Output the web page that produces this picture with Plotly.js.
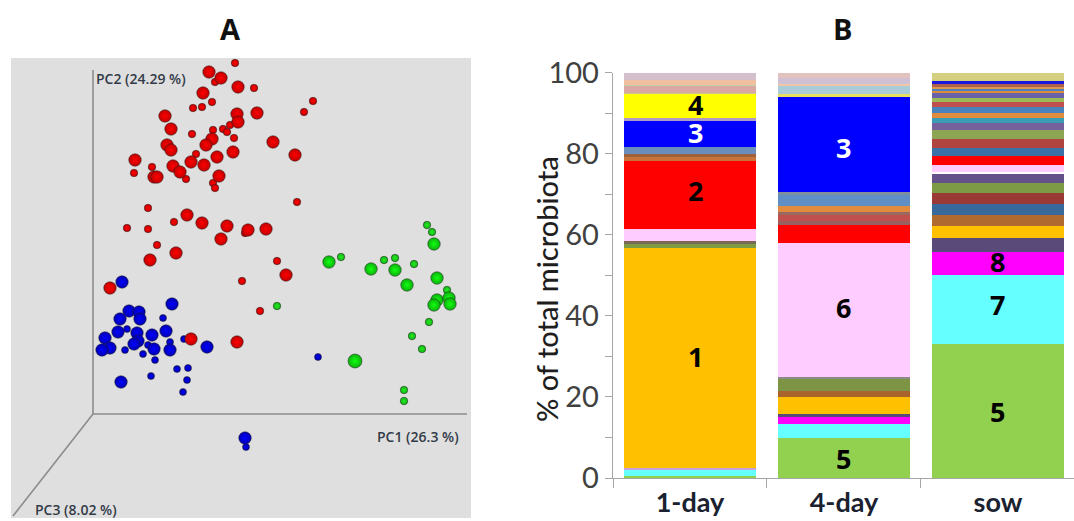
<!DOCTYPE html>
<html><head><meta charset="utf-8">
<script src="https://cdn.plot.ly/plotly-3.0.0.min.js"></script>
<style>html,body{margin:0;padding:0;background:#fff;overflow:hidden}#g{width:1074px;height:521px}</style>
</head><body><div id="g"></div>
<script>
// Panel A: projected PCoA positions
const redBigX=[209,221,238,203,165,171,237,257,238,212,206,167,171,273,295,233,217,135,191,204,173,180,219,154,157,187,202,227,248,266,221,176,150,286,110,191,237];
const redBigY=[72,78,87,93,116,129,114,113,122,139,145,145,150,142,155,152,157,160,162,165,166,172,176,177,177,215,223,226,230,229,239,253,260,275,288,339,342];
const redSmallX=[235,215,254,212,202,193,313,304,230,213,223,227,234,192,196,152,134,186,213,215,148,297,174,127,148,245,157,277,242,260];
const redSmallY=[63,82,88,102,107,108,101,112,125,130,129,132,138,134,154,167,173,179,183,188,208,202,222,228,229,233,245,261,281,311];
const greenBigX=[329,371,395,407,434,437,437,434,449,450];
const greenBigY=[262,269,270,285,244,278,300,305,298,304];
const greenHugeX=[355];
const greenHugeY=[361];
const greenSmallX=[341,384,395,414,427,432,447,429,412,422,404,404,277];
const greenSmallY=[257,260,258,264,225,232,290,322,336,349,390,401,306];
const blueBigX=[122,172,129,139,120,140,118,137,166,152,105,138,134,110,102,154,170,207,121,245];
const blueBigY=[282,304,311,312,319,319,332,333,331,335,338,341,344,348,350,349,350,347,382,438];
const blueSmallX=[163,127,170,184,148,125,143,155,177,188,187,151,183,246,318];
const blueSmallY=[318,329,342,339,345,350,354,360,369,368,380,376,392,447,357];

// Panel B: stacked segment heights, bottom to top
const groups=["1-day","4-day","sow"];
const day1Values=[0.6,1.4,0.4,54.3,0.9,0.9,3,16.7,1,0.7,1.7,6.4,0.7,6,0.2,1.8,0.2,1.3,1.7];
const day1Colors=["#92D050","#66FFFF","#C9A0DC","#FFC000","#7F9A45","#7A6A55","#FFCCFF","#FF0000","#C8733A","#A0603A","#6A8FBF","#0000FF","#B09AC8","#FFFF00","#C8C890","#D9A8A2","#C5CFA5","#F0BFA0","#D4C0CC"];
const day4Values=[9.8,3.5,1.7,0.9,4,1.5,3.1,0.3,33.2,4.5,0.9,1.4,0.9,1.4,2.7,0.8,23.3,0.8,2,0.5,1.4,1.2];
const day4Colors=["#92D050","#66FFFF","#FF00FF","#5A4A7A","#FFC000","#A8642C","#7D9445","#8A8A8A","#FFCCFF","#FF0000","#9A5F5F","#C0504D","#9A6A60","#E08B3E","#5F8FC5","#7F8FA0","#0000FF","#E8E060","#A9CCD8","#F0C8A8","#D0C0D4","#E2C2BE"];
const sowValues=[33,17,5.7,3.5,3,2.7,2.7,2.6,2.5,2.3,0.4,1.8,2.2,2.1,2.2,2.1,1.7,1.4,1.2,1.5,1.2,0.9,1.2,0.5,0.5,0.6,0.7,0.8,1.8];
const sowColors=["#92D050","#66FFFF","#FF00FF","#5A4A7A","#FFC000","#B0692E","#376A9A","#9A3A36","#7D9A45","#66528A","#FFFFFF","#FFCCFF","#FF0000","#3A72A8","#B0453F","#8CA653","#76619C","#3A9DB5","#E08C3E","#4A82BE","#C0504D","#9BBB59","#6A62A8","#E08C3E","#4A82BE","#E09850","#B0604F","#1818E0","#D4D080"];
const stacks=[[day1Values,day1Colors],[day4Values,day4Colors],[sowValues,sowColors]];

// In-bar numbers
const labelGroup=["1-day","1-day","1-day","1-day","4-day","4-day","4-day","sow","sow","sow"];
const labelValue=[30,70.8,85.3,92.2,81.6,42,4.7,16.5,42.7,53.5];
const labelText=["1","2","3","4","3","6","5","5","7","8"];
const labelColor=["#000","#000","#fff","#000","#fff","#000","#000","#000","#000","#000"];
const labelShift=[6,6,6,6,0,0,0,0,0,0];

const W=1074,H=521;
function sphere(x,y,edge,core,size){
  return {type:'scatter',mode:'markers',x:x,y:y,xaxis:'x',yaxis:'y',showlegend:false,hoverinfo:'skip',
    marker:{size:size,color:edge,line:{width:0.9,color:'rgba(30,30,30,0.55)'},gradient:{type:'radial',color:core}}};
}
const data=[
  sphere(redSmallX,redSmallY,'#c40000','#ff0000',7.5),
  sphere(greenSmallX,greenSmallY,'#12b012','#22f022',7.5),
  sphere(blueSmallX,blueSmallY,'#0000b0','#0000f5',7),
  sphere(redBigX,redBigY,'#c00000','#ff0000',12.5),
  sphere(greenBigX,greenBigY,'#0cb00c','#11ff11',12.5),
  sphere(greenHugeX,greenHugeY,'#0cb00c','#11ff11',14),
  sphere(blueBigX,blueBigY,'#0000b0','#0000ff',12.5)
];
stacks.forEach(function(s,i){
  s[0].forEach(function(v,j){
    data.push({type:'bar',x:[groups[i]],y:[v],xaxis:'x2',yaxis:'y2',showlegend:false,hoverinfo:'skip',
      marker:{color:s[1][j],line:{width:0}}});
  });
});
const axisGrey='#8c8c8c';
function seg(x0,y0,x1,y1){return {type:'line',xref:'x',yref:'y',x0:x0,y0:y0,x1:x1,y1:y1,line:{color:axisGrey,width:1.6},layer:'below'};}
const pcFont={family:'Open Sans',size:14,color:'#333b48',weight:600};
const annotations=[
  {xref:'paper',yref:'paper',x:230/W,y:1-28/H,xanchor:'center',yanchor:'middle',text:'<b>A</b>',showarrow:false,font:{family:'Open Sans, Arial',size:29,color:'#111'}},
  {xref:'paper',yref:'paper',x:842/W,y:1-28/H,xanchor:'center',yanchor:'middle',text:'<b>B</b>',showarrow:false,font:{family:'Open Sans, Arial',size:29,color:'#111'}},
  {xref:'paper',yref:'paper',x:546/W,y:1-289/H,xanchor:'center',yanchor:'middle',textangle:-90,text:'% of total microbiota',showarrow:false,font:{family:'Lato, Arial',size:29,color:'#1e1e1e',weight:500}},
  {xref:'x',yref:'y',x:94,y:78,xanchor:'left',text:'PC2 (24.29 %)',showarrow:false,font:pcFont},
  {xref:'x',yref:'y',x:375,y:436,xanchor:'left',text:'PC1 (26.3 %)',showarrow:false,font:pcFont},
  {xref:'x',yref:'y',x:33,y:509,xanchor:'left',text:'PC3 (8.02 %)',showarrow:false,font:pcFont}
];
labelText.forEach(function(t,i){
  annotations.push({xref:'x2',yref:'y2',x:labelGroup[i],y:labelValue[i],xshift:labelShift[i],text:'<b>'+t+'</b>',showarrow:false,
    font:{family:'Open Sans, Lato',size:27,color:labelColor[i]}});
});
const layout={
  width:W,height:H,margin:{l:0,r:0,t:0,b:0},paper_bgcolor:'#fff',plot_bgcolor:'rgba(0,0,0,0)',
  barmode:'stack',bargap:0.14,showlegend:false,
  xaxis:{domain:[11/W,471/W],range:[11,471],visible:false,fixedrange:true},
  yaxis:{domain:[1-518/H,1-58/H],range:[518,58],visible:false,fixedrange:true},
  xaxis2:{domain:[613/W,1],range:[-0.5,2.494],type:'category',categoryorder:'array',categoryarray:groups,
    tickson:'boundaries',ticks:'outside',ticklen:9,tickcolor:'#a6a6a6',showline:true,linecolor:'#a6a6a6',linewidth:1.3,
    showgrid:false,zeroline:false,tickfont:{family:'Lato, Arial',size:27,color:'#1a2230',weight:'bold'},ticklabelstandoff:0,fixedrange:true,anchor:'y2'},
  yaxis2:{domain:[1-478/H,1-72.5/H],range:[0,100],dtick:20,tick0:0,ticks:'outside',ticklen:7,tickcolor:'#a6a6a6',
    minor:{dtick:10,ticks:'outside',ticklen:7,tickcolor:'#a6a6a6',showgrid:false},
    showline:true,linecolor:'#a6a6a6',linewidth:1.3,showgrid:false,zeroline:false,
    tickfont:{family:'Lato, Arial',size:29,color:'#404040'},fixedrange:true,anchor:'x2'},
  shapes:[
    {type:'rect',xref:'x',yref:'y',x0:11,x1:471,y0:58,y1:518,fillcolor:'#dfdfdf',line:{width:0},layer:'below'},
    seg(93,70,93,414),seg(93,414,467,414),seg(93,414,13,516)
  ],
  annotations:annotations
};
Plotly.newPlot('g',data,layout,{displayModeBar:false,staticPlot:true});
</script></body></html>
